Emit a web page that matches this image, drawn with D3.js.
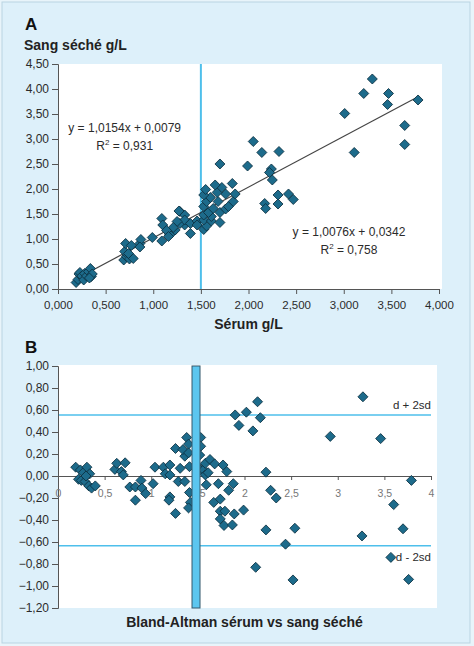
<!DOCTYPE html>
<html>
<head>
<meta charset="utf-8">
<script src="https://cdn.jsdelivr.net/npm/d3@7"></script>
<style>
  html, body { margin: 0; padding: 0; background: #e8f4fa; }
  svg { display: block; font-family: "Liberation Sans", Arial, Helvetica, sans-serif; }
</style>
</head>
<body>
<svg id="chart" width="474" height="646"></svg>
<script>
// ---------- DATA ----------
// Panel A: serum (x) vs dried blood (y), g/L
const serumA = [0.19,0.21,0.22,0.23,0.25,0.27,0.28,0.30,0.32,0.34,0.35,0.36,0.33,
  0.69,0.72,0.75,0.79,0.70,0.74,0.71,0.77,0.86,0.87,0.86,0.99,1.09,1.09,1.10,1.17,1.20,1.23,1.28,1.33,1.33,1.39,1.28,1.27,1.33,1.25,1.21,1.39,1.14,1.16,
  1.46,1.46,1.53,1.56,1.53,1.61,1.70,1.61,1.53,1.58,1.70,1.63,1.76,1.53,1.79,1.56,1.68,1.84,1.60,1.53,1.76,1.86,1.67,1.55,1.72,1.65,1.83,1.70,
  1.99,2.05,2.14,2.32,2.24,2.22,2.25,2.17,2.18,2.31,2.31,2.42,2.47,
  3.01,3.11,3.21,3.30,3.46,3.47,3.64,3.64,3.78];
const sangA = [0.13,0.19,0.30,0.33,0.26,0.18,0.31,0.26,0.35,0.41,0.25,0.30,0.22,
  0.58,0.65,0.60,0.61,0.75,0.71,0.91,0.87,0.91,0.99,0.84,1.03,0.96,1.41,1.28,1.10,1.13,1.18,1.55,1.48,1.28,1.11,1.31,1.56,1.38,1.35,1.23,1.31,1.17,1.05,
  1.36,1.28,1.19,1.26,1.38,1.36,1.33,1.45,1.48,1.53,1.53,1.61,1.60,1.65,1.65,1.75,1.75,1.75,1.83,1.88,1.90,1.90,1.93,1.99,2.03,2.08,2.11,2.50,
  2.46,2.95,2.73,2.75,2.40,2.33,2.18,1.71,1.61,1.88,1.70,1.90,1.79,
  3.51,2.73,3.91,4.20,3.69,3.91,3.27,2.89,3.78];
const fitA = { slope: 1.0154, intercept: 0.0079, from: 0.17, to: 3.78 };
const eqLabels = [
  { eq: "y = 1,0154x + 0,0079", r2: "0,931", x: 0.70, y: 3.14 },
  { eq: "y = 1,0076x + 0,0342", r2: "0,758", x: 3.055, y: 1.06 }
];
const xTicksA = [0,0.5,1,1.5,2,2.5,3,3.5,4];
const yTicksA = [0,0.5,1,1.5,2,2.5,3,3.5,4,4.5];
const cutoffA = 1.5;

// Panel B: Bland-Altman (mean vs difference)
const meanB = [0.19,0.24,0.27,0.31,0.34,0.22,0.25,0.29,0.33,0.36,0.40,0.30,
  0.61,0.63,0.68,0.70,0.72,0.77,0.83,0.89,0.90,0.94,0.83,1.02,1.04,
  1.13,1.15,1.20,1.20,1.20,1.19,1.26,1.26,1.31,1.29,1.36,1.36,1.38,1.40,1.34,1.40,1.41,1.41,1.42,1.40,
  1.53,1.53,1.52,1.50,1.52,1.56,1.58,1.59,1.58,1.63,1.68,1.61,1.72,1.77,1.81,1.88,1.83,1.67,1.74,1.74,1.74,1.79,1.78,1.87,1.89,1.99,
  1.90,1.94,2.02,2.09,2.14,2.17,2.23,
  2.12,2.23,2.28,2.34,2.44,2.52,2.54,2.92,3.26,3.27,3.46,3.57,3.60,3.70,3.76,3.79];
const diffB = [0.08,0.055,0.03,0.08,0.02,-0.03,-0.04,-0.05,-0.09,-0.11,-0.09,0.0,
  0.06,0.115,0.04,0.01,0.12,-0.10,-0.10,-0.04,-0.11,-0.16,-0.22,-0.07,0.08,
  0.08,0.02,0.10,0.01,-0.19,-0.22,0.25,-0.34,0.07,-0.05,-0.05,0.18,0.35,0.29,0.24,0.21,0.085,-0.15,-0.24,-0.29,
  0.35,0.27,0.19,0.085,0.055,0.055,0.01,-0.08,0.115,0.15,0.11,0.03,-0.07,0.10,0.04,-0.07,-0.13,-0.24,-0.21,-0.32,-0.39,-0.32,-0.45,-0.445,-0.345,-0.31,
  0.555,0.46,0.58,0.41,0.675,0.53,0.035,
  -0.83,-0.49,-0.13,-0.20,-0.62,-0.945,-0.475,0.36,-0.545,0.72,0.34,-0.74,-0.26,-0.48,-0.94,-0.04];
const limitsB = [ { value: 0.555, label: "d + 2sd", above: true }, { value: -0.634, label: "d - 2sd", above: false } ];
const barB = { x: 1.48, from: -1.2, to: 1.0 };
const xTicksB = [0,0.5,1,1.5,2,2.5,3,3.5,4];
const yTicksB = [-1.2,-1.0,-0.8,-0.6,-0.4,-0.2,0,0.2,0.4,0.6,0.8,1.0];

// ---------- STYLE ----------
const C = {
  panel: "#ddf0fa", frame: "#b9d4e2", plot: "#ffffff", axis: "#555555",
  text: "#2b2b2b", light: "#777777", blue: "#4ebfeb",
  markFill: "#1d6b8b", markStroke: "#0c2f40", fit: "#444444"
};
const fr = d3.formatLocale({ decimal: ",", thousands: ".", grouping: [3], currency: ["", "€"] });
const f2 = fr.format(".2f"), f3 = fr.format(".3f"), fg = fr.format("~g");

const svg = d3.select("#chart");
svg.append("rect").attr("x", 2).attr("y", 2).attr("width", 468).attr("height", 641)
  .attr("fill", C.panel).attr("stroke", C.frame).attr("stroke-width", 1);

const diamond = d3.symbol(d3.symbolSquare, 50);
function drawPoints(g, xs, ys, x, y) {
  g.selectAll("path.pt").data(xs.map((v, i) => [v, ys[i]])).join("path")
    .attr("class", "pt").attr("d", diamond)
    .attr("transform", d => `translate(${x(d[0])},${y(d[1])}) rotate(45)`)
    .attr("fill", C.markFill).attr("stroke", C.markStroke).attr("stroke-width", 0.8);
}
function styleAxis(g, color, size) {
  g.selectAll("path.domain").attr("stroke", C.axis);
  g.selectAll(".tick line").attr("stroke", C.axis);
  g.selectAll(".tick text").attr("fill", color).attr("font-size", size)
    .attr("font-family", '"Liberation Sans", Arial, sans-serif');
}

// ---------- PANEL A ----------
const xA = d3.scaleLinear().domain([0, 4]).range([58, 439]);
const yA = d3.scaleLinear().domain([0, 4.5]).range([289, 64]);
const gA = svg.append("g");
gA.append("text").attr("x", 25).attr("y", 30).attr("font-size", 17).attr("font-weight", "bold")
  .attr("fill", "#111").text("A");
gA.append("text").attr("x", 24).attr("y", 50).attr("font-size", 14).attr("font-weight", "bold")
  .attr("fill", "#222").text("Sang séché g/L");
gA.append("rect").attr("x", xA(0)).attr("y", yA(4.5)).attr("width", xA(4) - xA(0) + 3)
  .attr("height", yA(0) - yA(4.5)).attr("fill", C.plot);
gA.append("line").attr("x1", xA(cutoffA)).attr("x2", xA(cutoffA)).attr("y1", yA(4.5)).attr("y2", yA(0))
  .attr("stroke", C.blue).attr("stroke-width", 2);
gA.append("line").attr("x1", xA(fitA.from)).attr("y1", yA(fitA.slope * fitA.from + fitA.intercept))
  .attr("x2", xA(fitA.to)).attr("y2", yA(fitA.slope * fitA.to + fitA.intercept))
  .attr("stroke", C.fit).attr("stroke-width", 1.2);
const axYA = gA.append("g").attr("transform", `translate(${xA(0)},0)`)
  .call(d3.axisLeft(yA).tickValues(yTicksA).tickFormat(f2).tickSize(6).tickPadding(3));
styleAxis(axYA, C.text, 12);
const axXA = gA.append("g").attr("transform", `translate(0,${yA(0)})`)
  .call(d3.axisBottom(xA).tickValues(xTicksA).tickFormat(f3).tickSize(5).tickPadding(7));
styleAxis(axXA, C.text, 11.5);
eqLabels.forEach(e => {
  gA.append("text").attr("x", xA(e.x)).attr("y", yA(e.y)).attr("text-anchor", "middle")
    .attr("font-size", 12).attr("fill", C.text).text(e.eq);
  const t = gA.append("text").attr("x", xA(e.x)).attr("y", yA(e.y) + 18).attr("text-anchor", "middle")
    .attr("font-size", 12).attr("fill", C.text);
  t.append("tspan").text("R");
  t.append("tspan").attr("font-size", 8).attr("dy", -5).text("2");
  t.append("tspan").attr("dy", 5).text(" = " + e.r2);
});
drawPoints(gA, serumA, sangA, xA, yA);
gA.append("text").attr("x", (xA(0) + xA(4)) / 2).attr("y", 329).attr("text-anchor", "middle")
  .attr("font-size", 14).attr("font-weight", "bold").attr("fill", "#222").text("Sérum g/L");

// ---------- PANEL B ----------
const xB = d3.scaleLinear().domain([0, 4]).range([58, 431]);
const yB = d3.scaleLinear().domain([-1.2, 1.0]).range([608, 366]);
const gB = svg.append("g");
gB.append("text").attr("x", 25).attr("y", 353).attr("font-size", 17).attr("font-weight", "bold")
  .attr("fill", "#111").text("B");
gB.append("rect").attr("x", xB(0)).attr("y", yB(1.0) - 1).attr("width", xB(4) - xB(0) + 6)
  .attr("height", yB(-1.2) - yB(1.0) + 1).attr("fill", C.plot);
limitsB.forEach(l => {
  gB.append("line").attr("x1", xB(0)).attr("x2", xB(4)).attr("y1", yB(l.value)).attr("y2", yB(l.value))
    .attr("stroke", C.blue).attr("stroke-width", 1.5);
  gB.append("text").attr("x", xB(4)).attr("y", yB(l.value) + (l.above ? -6 : 15)).attr("text-anchor", "end")
    .attr("font-size", 11.5).attr("fill", C.text).text(l.label);
});
const axYB = gB.append("g").attr("transform", `translate(${xB(0)},0)`)
  .call(d3.axisLeft(yB).tickValues(yTicksB).tickFormat(f2).tickSize(6).tickPadding(3));
styleAxis(axYB, C.text, 12);
const axXB = gB.append("g").attr("transform", `translate(0,${yB(0)})`)
  .call(d3.axisBottom(xB).tickValues(xTicksB).tickFormat(fg).tickSize(4).tickPadding(10));
styleAxis(axXB, C.light, 10.5);
drawPoints(gB, meanB, diffB, xB, yB);
gB.append("rect").attr("x", xB(barB.x) - 4).attr("y", yB(barB.to)).attr("width", 8)
  .attr("height", yB(barB.from) - yB(barB.to))
  .attr("fill", "#5cc6ef").attr("stroke", "#35586c").attr("stroke-width", 1);
gB.append("text").attr("x", (xB(0) + xB(4)) / 2).attr("y", 627).attr("text-anchor", "middle")
  .attr("font-size", 14).attr("font-weight", "bold").attr("fill", "#222").text("Bland-Altman sérum vs sang séché");
</script>
</body>
</html>
